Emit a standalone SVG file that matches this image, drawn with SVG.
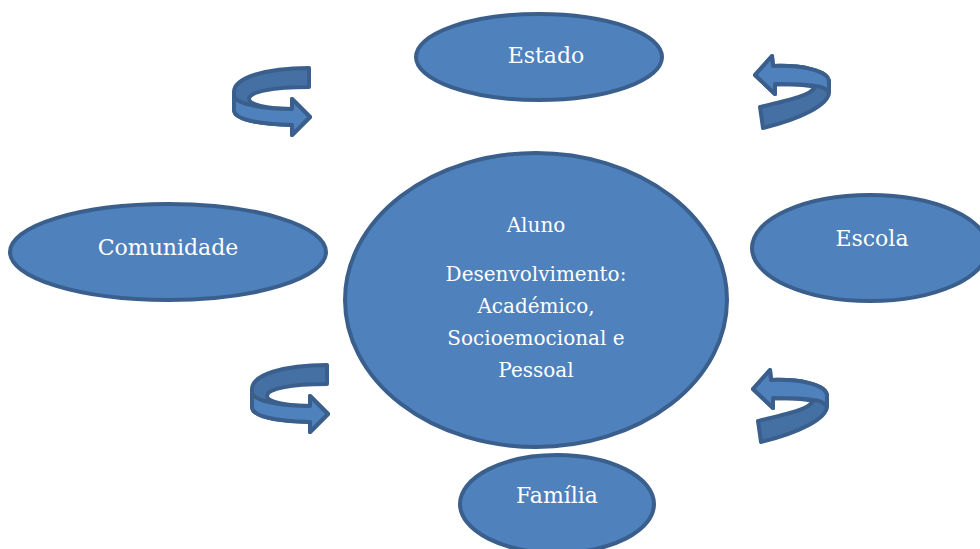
<svg xmlns="http://www.w3.org/2000/svg" width="980" height="549" viewBox="0 0 980 549">
<style>
.node{fill:#4f81bd;stroke:#3a5f8c;stroke-width:4}
.lbl{fill:#ffffff;font-family:"DejaVu Serif","Liberation Serif",serif;text-anchor:middle}
.big{font-size:22px}
.small{font-size:20px}
.dark{fill:#4570a3;stroke:#3a5f8c;stroke-width:4;stroke-linejoin:round}
.light{fill:#4f81bd;stroke:#3a5f8c;stroke-width:4;stroke-linejoin:round}
</style>
<defs>
<g id="arrowR">
<path class="dark" d="M309,68 C265,68 234,78 234,92 L234,110 C234,119 255,124 292,125 L292,135 L310,117 L292,99 L292,109 C265,109 249,104 249,99 C249,92 272,87 309,87 Z"/>
<path class="light" d="M234,96 C236,103 258,109 292,109 L292,99 L310,117 L292,135 L292,125 C255,124 234,119 234,110 Z"/>
</g>
<g id="arrowL">
<path class="dark" d="M760,107 C790,100 812,95 815,87 C805,84 790,84 775,84 L775,94 L755,75 L772,56 L773,66 C800,65 829,70 829,82 L829,92 C829,105 800,119 763,128 Z"/>
<path class="light" d="M775,84 L775,94 L755,75 L772,56 L773,66 C800,65 829,70 829,82 L829,92 C826,89 821,86 815,86 C805,84 790,84 775,84 Z"/>
</g>
</defs>
<g id="connectors">
<use href="#arrowR"/>
<use href="#arrowR" transform="translate(18,297)"/>
<use href="#arrowL"/>
<use href="#arrowL" transform="translate(-2,314)"/>
</g>
<g id="estado">
<ellipse class="node" cx="539" cy="57" rx="123" ry="43"/>
<text class="lbl big" x="546" y="63">Estado</text>
</g>
<g id="comunidade">
<ellipse class="node" cx="168" cy="252" rx="158" ry="48"/>
<text class="lbl big" x="168" y="255">Comunidade</text>
</g>
<g id="escola">
<ellipse class="node" cx="870" cy="248" rx="118" ry="53"/>
<text class="lbl big" x="872" y="246">Escola</text>
</g>
<g id="aluno">
<ellipse class="node" cx="536" cy="300" rx="191" ry="147"/>
<text class="lbl small" x="536" y="232">Aluno</text>
<text class="lbl small" x="536" y="281">Desenvolvimento:</text>
<text class="lbl small" x="536" y="313">Académico,</text>
<text class="lbl small" x="536" y="345">Socioemocional e</text>
<text class="lbl small" x="536" y="377">Pessoal</text>
</g>
<g id="familia">
<ellipse class="node" cx="557" cy="504" rx="97" ry="49"/>
<text class="lbl big" x="557" y="503">Família</text>
</g>
</svg>
